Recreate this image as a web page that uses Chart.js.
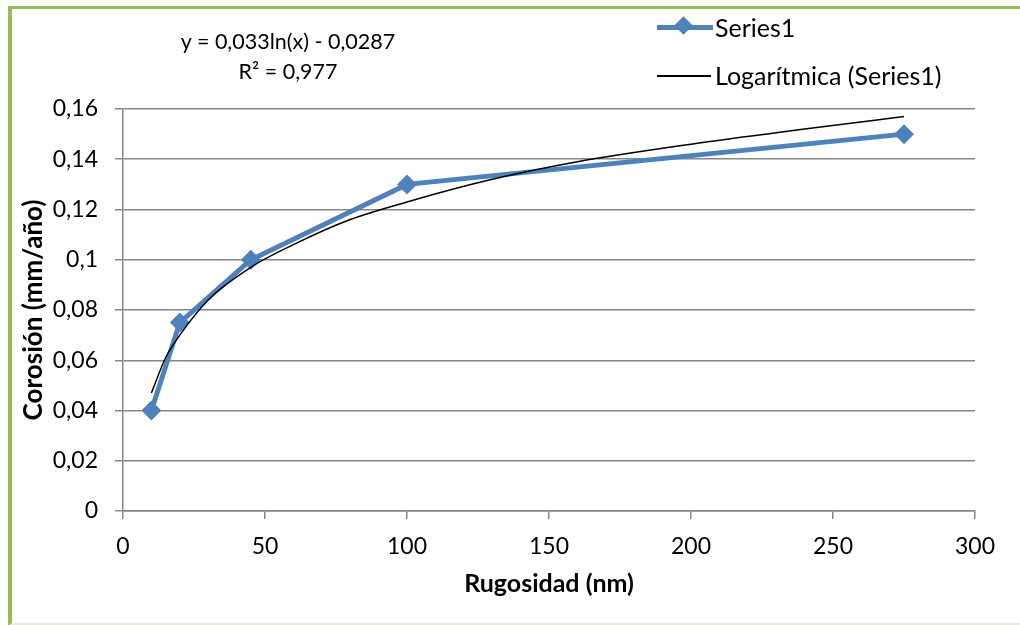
<!DOCTYPE html>
<html>
<head>
<meta charset="utf-8">
<script src="https://cdn.jsdelivr.net/npm/chart.js@4"></script>
<style>
  body { margin: 0; background: #fff; }
  #wrap { position: relative; width: 1020px; height: 625px; overflow: hidden; font-family: Lato, "Open Sans", sans-serif; }
  #frame { position: absolute; left: 8px; top: 6px; width: 1030px; height: 614px;
           border-left: 4px solid #9BBB59; border-top: 3px solid #9BBB59; border-bottom: 3px solid #E4ECD4; }
  canvas { position: absolute; left: 0; top: 0; }
  .txt { position: absolute; color: #000; white-space: nowrap; }
  .leg { position: absolute; }
</style>
</head>
<body>
<div id="wrap">
  <div id="frame"></div>
  <canvas id="rugosidad-chart" width="1020" height="625"></canvas>
  <div class="txt" style="left:168px; top:26px; width:240px; text-align:center; line-height:30px; font-size:21.5px;">y = 0,033ln(x) - 0,0287<br>R² = 0,977</div>
  <div class="leg" style="left:657px; top:25px; width:56px; height:5px; background:#4F81BD;"></div>
  <div class="leg" style="left:677px; top:19px; width:13px; height:13px; background:#4F81BD; transform:rotate(45deg);"></div>
  <div class="txt" style="left:715px; top:12px; font-size:25px;">Series1</div>
  <div class="leg" style="left:657px; top:75px; width:54px; height:1.5px; background:#000;"></div>
  <div class="txt" style="left:715px; top:60px; font-size:25px;">Logarítmica (Series1)</div>
</div>
<script>
const rugosidad = [10, 20, 45, 100, 275];
const corosion = [0.04, 0.075, 0.1, 0.13, 0.15];

// tendencia logaritmica
const trendX = [10, 15, 20, 30, 45, 60, 80, 100, 130, 160, 200, 240, 275];
const trendY = [0.047, 0.061, 0.070, 0.084, 0.097, 0.106, 0.116, 0.123, 0.132, 0.139, 0.146, 0.152, 0.157];

const yTicks = ['0', '0,02', '0,04', '0,06', '0,08', '0,1', '0,12', '0,14', '0,16'];

const tickFont = { family: 'Lato, "Open Sans", sans-serif', size: 23 };
const xTitleFont = { family: 'Lato, "Open Sans", sans-serif', size: 25, weight: 'bold' };
const yTitleFont = { family: 'Lato, "Open Sans", sans-serif', size: 26, weight: 'bold' };

const ctx = document.getElementById('rugosidad-chart').getContext('2d');
const chart = new Chart(ctx, {
    type: 'scatter',
    data: {
        datasets: [{
            label: 'Logarítmica (Series1)',
            data: trendX.map((x, i) => ({ x: x, y: trendY[i] })),
            showLine: true,
            borderColor: '#000',
            borderWidth: 1.5,
            pointRadius: 0,
            cubicInterpolationMode: 'monotone',
            order: 1
        }, {
            label: 'Series1',
            data: rugosidad.map((x, i) => ({ x: x, y: corosion[i] })),
            showLine: true,
            borderColor: '#4F81BD',
            backgroundColor: '#4F81BD',
            borderWidth: 5,
            pointStyle: 'rectRot',
            pointRadius: 10,
            pointBorderWidth: 0,
            order: 2
        }]
    },
    options: {
        responsive: false,
        animation: false,
        layout: { padding: { left: 0, right: 45, top: 109, bottom: 22 } },
        plugins: { legend: { display: false }, tooltip: { enabled: false } },
        scales: {
            x: {
                type: 'linear',
                min: 0, max: 300,
                ticks: { stepSize: 50, color: '#000', font: tickFont, padding: 14 },
                grid: { drawOnChartArea: false, color: '#868686', tickLength: 8, lineWidth: 1.5 },
                border: { color: '#868686', width: 1.5 },
                title: { display: true, text: 'Rugosidad (nm)', color: '#000', font: xTitleFont },
                afterFit: s => { s.height = 92; }
            },
            y: {
                min: 0, max: 0.16,
                ticks: { stepSize: 0.02, color: '#000', font: tickFont, padding: 17,
                         callback: (v, i) => yTicks[i] },
                grid: { color: '#868686', tickLength: 8, lineWidth: 1.5 },
                border: { color: '#868686', width: 1.5 },
                title: { display: true, text: 'Corosión (mm/año)', color: '#000', font: yTitleFont, padding: { top: 18, bottom: 0 } },
                afterFit: s => { s.width = 123; }
            }
        }
    }
});
</script>
</body>
</html>
